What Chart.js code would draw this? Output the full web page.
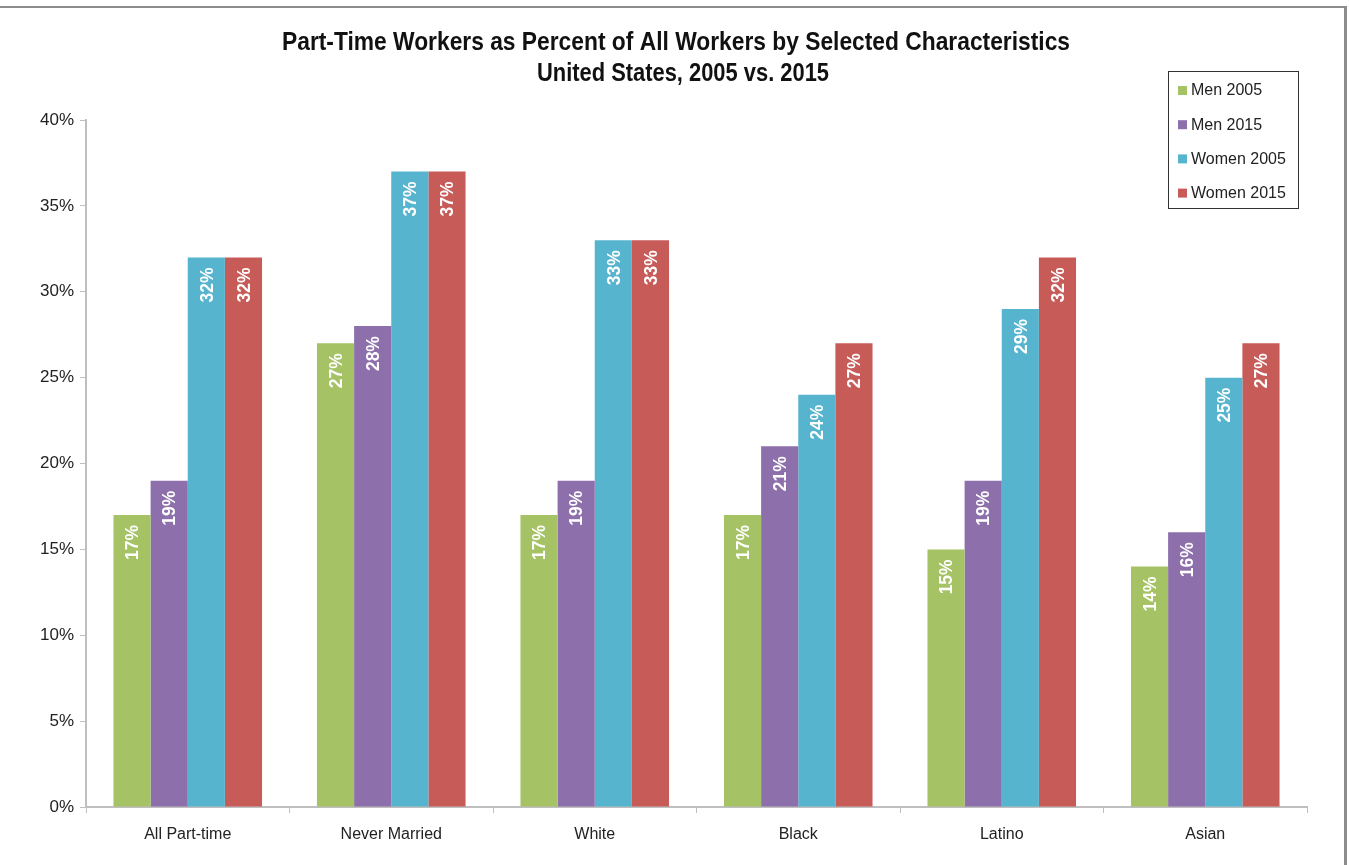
<!DOCTYPE html>
<html>
<head>
<meta charset="utf-8">
<script src="https://cdn.jsdelivr.net/npm/chart.js@4.4.1/dist/chart.umd.min.js"></script>
<style>
    html, body { margin: 0; padding: 0; background: #fff; }
    #wrap { position: relative; width: 1349px; height: 865px; overflow: hidden; }
    #frame { position: absolute; left: -4px; top: 6px; width: 1351px; height: 900px;
             border-top: 2px solid #8c8c8c; border-right: 3px solid #8c8c8c; box-sizing: border-box; }
</style>
</head>
<body>
<div id="wrap">
    <canvas id="ptChart" width="1349" height="865"></canvas>
    <div id="frame"></div>
</div>
<script>
const categories = ['All Part-time', 'Never Married', 'White', 'Black', 'Latino', 'Asian'];
const seriesNames = ['Men 2005', 'Men 2015', 'Women 2005', 'Women 2015'];
const men2005 = [17, 27, 17, 17, 15, 14];
const men2015 = [19, 28, 19, 21, 19, 16];
const women2005 = [32, 37, 33, 24, 29, 25];
const women2015 = [32, 37, 33, 27, 32, 27];
const yTicks = [0, 5, 10, 15, 20, 25, 30, 35, 40];

const colors = ['#A5C265', '#8C6FAB', '#56B4CE', '#C75B58'];
const plain = "'Liberation Sans', Arial, sans-serif";

// squeeze text horizontally to look like Arial Narrow
function narrowText(ctx, text, x, y, targetWidth) {
    const w = ctx.measureText(text).width;
    ctx.save();
    ctx.translate(x, y);
    ctx.scale(targetWidth / w, 1);
    ctx.fillText(text, 0, 0);
    ctx.restore();
}

const titlePlugin = {
    id: 'titleAndLegend',
    afterDraw(chart) {
        const ctx = chart.ctx;
        ctx.save();
        ctx.fillStyle = '#111';
        ctx.font = 'bold 25px ' + plain;
        ctx.textAlign = 'center';
        ctx.textBaseline = 'middle';
        narrowText(ctx, 'Part-Time Workers as Percent of All Workers by Selected Characteristics', 676, 43, 788);
        narrowText(ctx, 'United States, 2005 vs. 2015', 683, 74, 292);

        // legend box
        ctx.strokeStyle = '#333';
        ctx.lineWidth = 1;
        ctx.strokeRect(1168.5, 71.5, 130, 137);
        ctx.font = '16px ' + plain;
        ctx.textAlign = 'left';
        chart.data.datasets.forEach((ds, i) => {
            const y = 90 + i * 34.2;
            ctx.fillStyle = ds.backgroundColor;
            ctx.fillRect(1178, y - 4, 9, 9);
            ctx.fillStyle = '#222';
            ctx.fillText(ds.label, 1191, y + 1);
        });
        ctx.restore();
    }
};

const barLabels = {
    id: 'barLabels',
    afterDatasetsDraw(chart) {
        const ctx = chart.ctx;
        ctx.save();
        ctx.fillStyle = '#fff';
        ctx.font = 'bold 19px ' + plain;
        ctx.textAlign = 'right';
        ctx.textBaseline = 'middle';
        chart.data.datasets.forEach((ds, i) => {
            chart.getDatasetMeta(i).data.forEach((bar, j) => {
                ctx.save();
                ctx.translate(bar.x + 1, bar.y + 10);
                ctx.rotate(-Math.PI / 2);
                ctx.scale(0.92, 1);
                ctx.fillText(ds.data[j] + '%', 0, 0);
                ctx.restore();
            });
        });
        ctx.restore();
    }
};

new Chart(document.getElementById('ptChart').getContext('2d'), {
    type: 'bar',
    data: {
        labels: categories,
        datasets: [men2005, men2015, women2005, women2015].map((d, i) => ({
            label: seriesNames[i],
            data: d,
            backgroundColor: colors[i],
            borderWidth: 0,
            categoryPercentage: 0.73,
            barPercentage: 1
        }))
    },
    options: {
        responsive: false,
        animation: false,
        layout: { padding: { left: 26, right: 42, top: 120, bottom: 8 } },
        plugins: { legend: { display: false }, tooltip: { enabled: false }, title: { display: false } },
        scales: {
            x: {
                afterFit(scale) { scale.height = 50; },
                grid: { offset: true, drawOnChartArea: false, drawTicks: true, tickLength: 6, color: '#BFBFBF' },
                border: { display: true, color: '#BFBFBF', width: 2 },
                ticks: { color: '#222', font: { family: plain, size: 16 }, padding: 12 }
            },
            y: {
                min: 0,
                max: 40,
                afterFit(scale) { scale.width = 60; },
                afterBuildTicks(scale) { scale.ticks = yTicks.map(v => ({ value: v })); },
                grid: { drawOnChartArea: false, drawTicks: true, tickLength: 6, color: '#BFBFBF' },
                border: { display: true, color: '#BFBFBF', width: 2 },
                ticks: { color: '#222', font: { family: plain, size: 17 }, padding: 6, callback: v => v + '%' }
            }
        }
    },
    plugins: [titlePlugin, barLabels]
});
</script>
</body>
</html>
